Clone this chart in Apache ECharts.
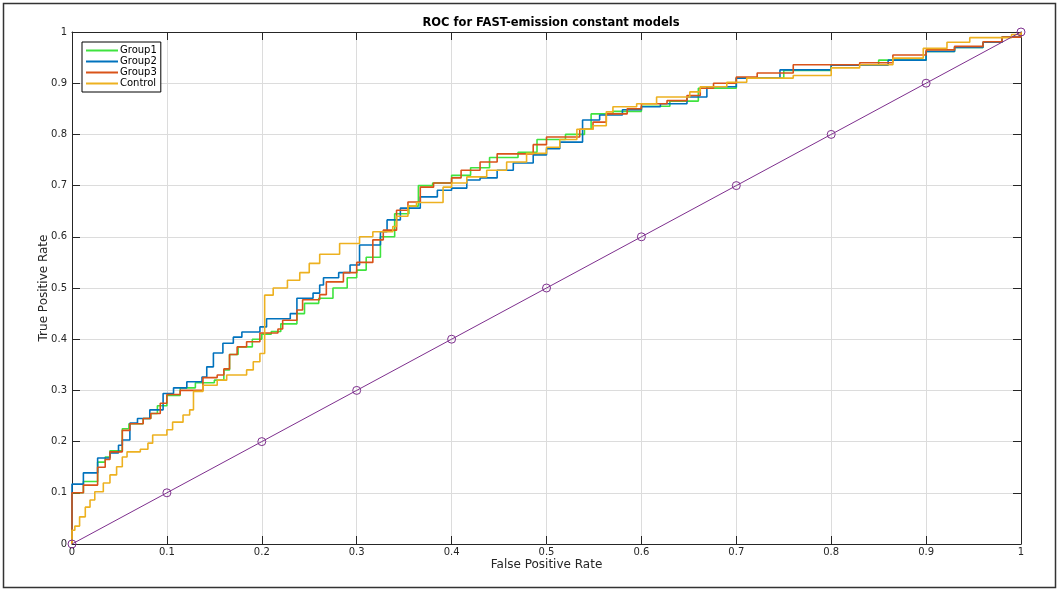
<!DOCTYPE html>
<html>
<head>
<meta charset="utf-8">
<script src="https://cdn.jsdelivr.net/npm/echarts@6/dist/echarts.min.js"></script>
<style>
  html, body { margin: 0; padding: 0; background: #fff; }
  #chart { width: 1061px; height: 592px; }
</style>
</head>
<body>
<div id="chart"></div>
<script>
// ROC curve points (false positive rate, true positive rate)
var g1Fpr = [0, 0, 0.012, 0.027, 0.035, 0.04, 0.053, 0.06, 0.075, 0.083, 0.09, 0.1, 0.114, 0.13, 0.15, 0.16, 0.166, 0.175, 0.19, 0.2, 0.21, 0.22, 0.237, 0.245, 0.26, 0.275, 0.29, 0.3, 0.31, 0.325, 0.34, 0.355, 0.365, 0.38, 0.4, 0.42, 0.44, 0.47, 0.49, 0.52, 0.54, 0.547, 0.57, 0.6, 0.63, 0.66, 0.7, 0.75, 0.8, 0.85, 0.9, 0.93, 0.96, 0.98, 1];
var g1Tpr = [0, 0.1, 0.122, 0.16, 0.17, 0.182, 0.225, 0.235, 0.245, 0.255, 0.27, 0.29, 0.305, 0.315, 0.32, 0.34, 0.37, 0.385, 0.4, 0.41, 0.415, 0.43, 0.45, 0.47, 0.48, 0.5, 0.52, 0.535, 0.56, 0.6, 0.645, 0.66, 0.7, 0.705, 0.72, 0.735, 0.755, 0.765, 0.79, 0.8, 0.81, 0.84, 0.845, 0.855, 0.865, 0.89, 0.91, 0.925, 0.935, 0.945, 0.962, 0.97, 0.98, 0.99, 1];

var g2Fpr = [0, 0, 0.012, 0.027, 0.04, 0.049, 0.053, 0.061, 0.069, 0.082, 0.096, 0.107, 0.121, 0.137, 0.142, 0.149, 0.159, 0.17, 0.179, 0.198, 0.205, 0.23, 0.237, 0.254, 0.261, 0.265, 0.281, 0.293, 0.303, 0.325, 0.332, 0.346, 0.367, 0.385, 0.4, 0.416, 0.43, 0.448, 0.465, 0.486, 0.5, 0.514, 0.538, 0.556, 0.58, 0.6, 0.62, 0.648, 0.669, 0.7, 0.746, 0.8, 0.86, 0.9, 0.93, 0.96, 0.98, 1];
var g2Tpr = [0, 0.117, 0.139, 0.168, 0.178, 0.193, 0.203, 0.236, 0.245, 0.262, 0.294, 0.305, 0.317, 0.326, 0.346, 0.373, 0.392, 0.404, 0.414, 0.424, 0.44, 0.45, 0.48, 0.49, 0.506, 0.52, 0.53, 0.545, 0.584, 0.61, 0.633, 0.656, 0.678, 0.691, 0.695, 0.711, 0.715, 0.73, 0.744, 0.76, 0.772, 0.785, 0.828, 0.838, 0.848, 0.854, 0.86, 0.873, 0.893, 0.91, 0.926, 0.935, 0.945, 0.962, 0.97, 0.98, 0.99, 1];

var g3Fpr = [0, 0, 0.012, 0.027, 0.035, 0.04, 0.053, 0.061, 0.075, 0.083, 0.093, 0.1, 0.114, 0.138, 0.153, 0.16, 0.166, 0.174, 0.184, 0.198, 0.217, 0.222, 0.237, 0.243, 0.261, 0.268, 0.286, 0.3, 0.317, 0.328, 0.342, 0.354, 0.367, 0.381, 0.4, 0.41, 0.43, 0.448, 0.486, 0.5, 0.535, 0.549, 0.563, 0.585, 0.6, 0.627, 0.648, 0.662, 0.676, 0.7, 0.722, 0.76, 0.83, 0.865, 0.9, 0.93, 0.96, 0.98, 1];
var g3Tpr = [0, 0.1, 0.115, 0.15, 0.165, 0.18, 0.222, 0.235, 0.245, 0.255, 0.275, 0.292, 0.3, 0.325, 0.33, 0.342, 0.37, 0.385, 0.395, 0.412, 0.42, 0.437, 0.457, 0.477, 0.487, 0.512, 0.53, 0.55, 0.594, 0.613, 0.652, 0.668, 0.697, 0.705, 0.715, 0.73, 0.746, 0.762, 0.78, 0.795, 0.81, 0.824, 0.84, 0.85, 0.86, 0.866, 0.876, 0.89, 0.9, 0.912, 0.92, 0.936, 0.94, 0.955, 0.965, 0.972, 0.981, 0.99, 1];

var ctrlFpr = [0, 0, 0.003, 0.008, 0.014, 0.019, 0.024, 0.033, 0.04, 0.047, 0.053, 0.058, 0.072, 0.08, 0.085, 0.1, 0.106, 0.117, 0.124, 0.128, 0.138, 0.153, 0.163, 0.184, 0.191, 0.198, 0.203, 0.212, 0.227, 0.24, 0.25, 0.261, 0.282, 0.303, 0.317, 0.338, 0.342, 0.354, 0.363, 0.391, 0.4, 0.416, 0.437, 0.458, 0.479, 0.5, 0.514, 0.532, 0.549, 0.563, 0.57, 0.595, 0.616, 0.651, 0.662, 0.69, 0.711, 0.76, 0.8, 0.83, 0.865, 0.897, 0.922, 0.946, 0.99, 1];
var ctrlTpr = [0, 0.027, 0.035, 0.053, 0.072, 0.086, 0.102, 0.119, 0.135, 0.151, 0.17, 0.18, 0.185, 0.197, 0.213, 0.223, 0.238, 0.252, 0.262, 0.298, 0.31, 0.32, 0.33, 0.34, 0.356, 0.372, 0.486, 0.5, 0.515, 0.53, 0.548, 0.566, 0.587, 0.6, 0.61, 0.62, 0.64, 0.66, 0.667, 0.697, 0.705, 0.717, 0.73, 0.746, 0.763, 0.775, 0.79, 0.81, 0.817, 0.844, 0.854, 0.86, 0.873, 0.883, 0.893, 0.902, 0.91, 0.915, 0.93, 0.936, 0.949, 0.968, 0.98, 0.989, 0.995, 1];

// chance line
var diagX = [0, 0.1, 0.2, 0.3, 0.4, 0.5, 0.6, 0.7, 0.8, 0.9, 1];
var diagY = [0, 0.1, 0.2, 0.3, 0.4, 0.5, 0.6, 0.7, 0.8, 0.9, 1];

var names = ['Group1', 'Group2', 'Group3', 'Control'];

var myChart = echarts.init(document.getElementById('chart'));

function zip(xs, ys) {
    var out = [];
    for (var i = 0; i < xs.length; i++) {
        out.push([xs[i], ys[i]]);
    }
    return out;
}

// horizontal run first, then the rise at the next point
function rocSeries(name, xs, ys, color) {
    return {
        name: name,
        type: 'line',
        step: 'end',
        data: zip(xs, ys),
        showSymbol: false,
        lineStyle: { color: color, width: 1.6 },
        itemStyle: { color: color },
        animation: false
    };
}

var axisColor = '#262626';
var font = 'DejaVu Sans';

var tickLabels = function (v) {
    return String(Math.round(v * 10) / 10);
};

// box axes (top / right) only carry inward ticks
function boxAxis(pos) {
    return {
        type: 'value',
        position: pos,
        min: 0, max: 1, interval: 0.1,
        axisLine: { show: true, onZero: false, lineStyle: { color: axisColor, width: 1 } },
        axisTick: { show: true, inside: true, length: 8, lineStyle: { color: axisColor } },
        axisLabel: { show: false },
        splitLine: { show: false }
    };
}

var option = {
    backgroundColor: '#fff',
    animation: false,
    title: {
        text: 'ROC for FAST-emission constant models',
        left: 546,
        top: 12,
        textAlign: 'center',
        textStyle: { fontFamily: font, fontSize: 11.5, fontWeight: 'bold', color: '#000' }
    },
    legend: {
        data: names,
        orient: 'vertical',
        left: 82,
        top: 42,
        padding: [3, 4, 3, 4],
        itemGap: 0,
        itemWidth: 32,
        itemHeight: 2,
        icon: 'rect',
        borderColor: '#000',
        borderWidth: 1,
        borderRadius: 0,
        backgroundColor: '#fff',
        textStyle: { fontFamily: font, fontSize: 10, color: '#000', lineHeight: 11, padding: [0, 0, 0, -3] }
    },
    grid: { left: 72, right: 40, top: 32, bottom: 48 },
    xAxis: [{
        type: 'value',
        position: 'bottom',
        min: 0, max: 1, interval: 0.1,
        name: 'False Positive Rate',
        nameLocation: 'middle',
        nameGap: 15,
        nameMoveOverlap: false,
        nameTextStyle: { fontFamily: font, fontSize: 12, color: '#262626' },
        axisLine: { show: true, onZero: false, lineStyle: { color: axisColor, width: 1 } },
        axisTick: { show: true, inside: true, length: 8, lineStyle: { color: axisColor } },
        axisLabel: { fontFamily: font, fontSize: 10, color: '#262626', margin: 3, formatter: tickLabels },
        splitLine: { show: true, lineStyle: { color: '#dcdcdc', width: 1 } }
    }, boxAxis('top')],
    yAxis: [{
        type: 'value',
        position: 'left',
        min: 0, max: 1, interval: 0.1,
        name: 'True Positive Rate',
        nameLocation: 'middle',
        nameGap: 22,
        nameMoveOverlap: false,
        nameTextStyle: { fontFamily: font, fontSize: 12, color: '#262626' },
        axisLine: { show: true, onZero: false, lineStyle: { color: axisColor, width: 1 } },
        axisTick: { show: true, inside: true, length: 8, lineStyle: { color: axisColor } },
        axisLabel: { fontFamily: font, fontSize: 10, color: '#262626', margin: 5, formatter: tickLabels },
        splitLine: { show: true, lineStyle: { color: '#dcdcdc', width: 1 } }
    }, boxAxis('right')],
    series: [
        rocSeries('Group1', g1Fpr, g1Tpr, '#3fe33f'),
        rocSeries('Group2', g2Fpr, g2Tpr, '#0072bd'),
        rocSeries('Group3', g3Fpr, g3Tpr, '#d95319'),
        rocSeries('Control', ctrlFpr, ctrlTpr, '#edb120'),
        {
            name: 'diag',
            type: 'line',
            data: zip(diagX, diagY),
            symbol: 'circle',
            symbolSize: 8,
            showSymbol: true,
            lineStyle: { color: '#7e2f8e', width: 1 },
            itemStyle: { color: 'rgba(0,0,0,0)', borderColor: '#7e2f8e', borderWidth: 1 },
            clip: false,
            animation: false
        }
    ],
    graphic: [{
        type: 'rect',
        shape: { x: 3.5, y: 3.5, width: 1052, height: 584 },
        style: { fill: 'none', stroke: '#333', lineWidth: 1.5 },
        silent: true
    }]
};

myChart.setOption(option);
</script>
</body>
</html>
